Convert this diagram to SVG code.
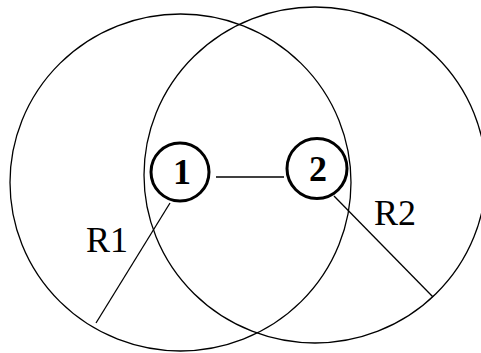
<svg xmlns="http://www.w3.org/2000/svg" width="481" height="353" viewBox="0 0 481 353">
<style>
.big{fill:none;stroke:#000;stroke-width:1.3}
.node{fill:none;stroke:#000;stroke-width:3}
.ln{stroke:#000;stroke-width:1.3;fill:none}
.t{font-family:'Liberation Serif','DejaVu Serif',serif;font-size:36px;fill:#000}
.d{font-weight:bold}
</style>
<rect width="481" height="353" fill="#fff"/>
<g id="range1"><ellipse class="big" cx="180.5" cy="182.5" rx="170.5" ry="168.5"/></g>
<g id="range2"><ellipse class="big" cx="315" cy="175" rx="171" ry="168"/></g>
<g id="connectors">
<line class="ln" x1="216" y1="177" x2="284" y2="177"/>
<line class="ln" x1="170" y1="203" x2="96" y2="323"/>
<line class="ln" x1="334" y1="196" x2="433" y2="297"/>
</g>
<g id="node1"><circle class="node" cx="180" cy="172" r="29"/><text class="t d" x="182" y="184" text-anchor="middle">1</text></g>
<g id="node2"><circle class="node" cx="317" cy="168.5" r="30"/><text class="t d" x="318" y="181" text-anchor="middle">2</text></g>
<g id="labelR1"><text class="t" x="86" y="252">R1</text></g>
<g id="labelR2"><text class="t" x="374" y="225">R2</text></g>
</svg>
